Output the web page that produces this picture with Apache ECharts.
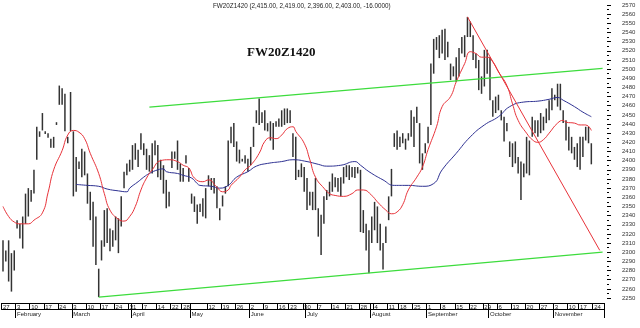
<!DOCTYPE html>
<html><head><meta charset="utf-8">
<script src="https://cdn.jsdelivr.net/npm/echarts@6/dist/echarts.min.js"></script>
<style>html,body{margin:0;padding:0;background:#fff}#c{width:640px;height:328px}</style>
</head><body><div id="c"></div>
<script>
// ---- calendar (trading days, Warsaw exchange 2014) ----
const startDate = '2014-01-27';
const endDate = '2014-11-27';
const holidays = ['2014-04-21', '2014-05-01', '2014-06-19', '2014-08-15', '2014-11-11'];
const skipWeekLabels = ['2014-05-05'];
const monthNames = ['January','February','March','April','May','June','July','August','September','October','November','December'];

// ---- bar data (high / low) ----
const highs = [2313,2302,2313,2299,2302,2335,2331,2339,2364,2370,2368,2390,2437,2432,2452,2432,2430,2424,2426,2442,
2482,2479,2473,2426,2475,2432,2404,2399,2413,2410,2386,2366,2355,2339,2282,2313,2346,2348,2326,2324,
2339,2337,2361,2388,2397,2401,2417,2419,2412,2430,2419,2413,2406,2419,2422,2417,2401,2395,2379,2366,
2410,2410,2422,2397,2392,2406,2392,2364,2361,2352,2353,2359,2370,2384,2381,2381,2372,2348,2362,2372,
2422,2437,2441,2421,2412,2402,2406,2402,2415,2437,2455,2468,2453,2455,2441,2443,2441,2443,2446,2455,
2457,2457,2455,2430,2426,2390,2397,2393,2381,2366,2366,2381,2348,2341,2361,2368,2377,2386,2382,2381,
2382,2393,2395,2395,2393,2393,2393,2390,2346,2331,2324,2339,2355,2350,2331,2310,2328,2361,2391,2430,
2433,2426,2430,2424,2430,2455,2448,2459,2441,2408,2419,2437,2506,2533,2535,2537,2543,2544,2530,2506,
2503,2513,2523,2535,2537,2557,2552,2537,2517,2510,2492,2521,2521,2513,2466,2470,2472,2455,2448,2441,
2421,2419,2421,2404,2399,2397,2426,2422,2448,2444,2444,2452,2448,2457,2466,2479,2472,2484,2484,2455,
2444,2437,2426,2415,2419,2426,2426,2437,2437,2419];
const lows = [2279,2290,2268,2257,2280,2326,2315,2304,2331,2339,2355,2364,2401,2426,2433,2429,2425,2414,2414,2439,
2461,2461,2432,2419,2432,2361,2366,2391,2382,2384,2353,2335,2306,2286,2251,2291,2306,2310,2301,2306,
2313,2299,2328,2370,2384,2388,2390,2401,2393,2412,2406,2390,2388,2386,2406,2382,2379,2364,2348,2350,
2392,2402,2390,2377,2377,2397,2377,2353,2344,2331,2344,2339,2337,2372,2368,2364,2348,2335,2350,2364,
2372,2419,2415,2399,2397,2399,2397,2388,2395,2415,2441,2439,2441,2433,2432,2422,2412,2437,2437,2437,
2439,2441,2441,2404,2379,2382,2382,2366,2346,2351,2346,2346,2317,2297,2331,2357,2361,2366,2371,2366,
2361,2375,2382,2379,2382,2381,2386,2322,2321,2302,2277,2310,2324,2310,2302,2281,2310,2335,2361,2415,
2412,2415,2419,2412,2422,2426,2415,2441,2397,2390,2408,2419,2439,2495,2521,2512,2517,2510,2513,2488,
2492,2486,2492,2517,2513,2535,2535,2510,2501,2477,2473,2481,2495,2466,2448,2452,2455,2444,2421,2432,
2404,2393,2397,2386,2357,2382,2386,2384,2426,2430,2426,2430,2433,2441,2444,2455,2466,2459,2455,2441,
2422,2411,2408,2401,2393,2390,2404,2422,2419,2396];

// ---- moving averages: [trading-day index, value] ----
const redMA = [[0,2350],[2,2339],[4,2333],[6,2331],[9,2331],[11,2335],[14,2343],[16,2365],[18,2390],[21,2411],
[23,2428],[25,2433],[27,2431],[29,2424],[31,2408],[34,2386],[36,2364],[38,2346],[41,2336],[43,2334],
[45,2339],[47,2350],[49,2368],[51,2381],[53,2390],[56,2400],[59,2401],[62,2399],[64,2395],[66,2392],
[68,2381],[71,2377],[73,2379],[76,2371],[78,2366],[80,2368],[81,2373],[84,2382],[86,2390],[88,2395],
[91,2408],[93,2421],[95,2425],[97,2424],[99,2428],[101,2435],[103,2437],[104,2432],[107,2419],[109,2401],
[111,2382],[114,2370],[116,2364],[118,2362],[121,2361],[124,2364],[126,2368],[128,2368],[131,2362],[133,2355],
[136,2346],[138,2342],[140,2344],[142,2352],[144,2368],[147,2382],[149,2393],[151,2412],[154,2437],[156,2459],
[159,2470],[161,2486],[164,2506],[166,2519],[168,2517],[170,2513],[172,2513],[174,2508],[176,2497],[179,2482],
[181,2462],[183,2444],[186,2430],[188,2423],[190,2420],[192,2423],[194,2430],[197,2441],[199,2444],[200,2442],
[203,2441],[205,2439],[207,2439],[209,2433]];
const blueMA = [[26,2374],[30,2373],[34,2372],[37,2369],[41,2367],[44,2366],[45,2370],[48,2377],[50,2382],[52,2386],
[55,2390],[57,2391],[58,2388],[62,2386],[64,2384],[67,2381],[69,2375],[70,2373],[74,2372],[77,2370],
[80,2373],[83,2382],[87,2388],[90,2394],[94,2397],[99,2399],[103,2401],[108,2399],[112,2396],[115,2394],
[120,2395],[125,2399],[127,2395],[130,2388],[135,2379],[139,2373],[144,2373],[149,2372],[153,2375],[156,2390],
[161,2408],[166,2426],[171,2439],[176,2448],[180,2459],[185,2464],[190,2465],[194,2467],[197,2469],[199,2466],
[203,2459],[206,2453],[209,2448]];

// ---- trend lines drawn on the chart: [trading-day index, value] ----
const upperChannel = [[52,2458.5],[213,2500.8]];
const lowerChannel = [[34,2251],[213,2300]];
const downTrend = [[165,2557],[212,2302]];

// ---- build categories ----
const cats = [];
(function(){
  let d = new Date(startDate + 'T00:00:00Z');
  const end = new Date(endDate + 'T00:00:00Z');
  while (d <= end) {
    const s = d.toISOString().slice(0,10);
    const wd = d.getUTCDay();
    if (wd !== 0 && wd !== 6 && holidays.indexOf(s) < 0) cats.push(s);
    d = new Date(d.getTime() + 86400000);
  }
})();
const wday = s => new Date(s + 'T00:00:00Z').getUTCDay();
const isWeekStart = i => skipWeekLabels.indexOf(cats[i]) < 0 && (i === 0 || wday(cats[i]) <= wday(cats[i-1]));
const isMonthStart = i => i > 0 && cats[i].slice(5,7) !== cats[i-1].slice(5,7);

const barData = highs.map((h, i) => [i, lows[i], h]);

const chart = echarts.init(document.getElementById('c'), null, {renderer: 'canvas'});
const FONT = 'Liberation Sans';
chart.setOption({
  animation: false,
  backgroundColor: '#ffffff',
  title: [
    {text: 'FW20Z1420 (2,415.00, 2,419.00, 2,396.00, 2,403.00, -16.0000)', left: 213, top: 3, padding: 0,
     textStyle: {fontSize: 6.3, fontWeight: 'normal', color: '#222', fontFamily: FONT}},
    {text: 'FW20Z1420', left: 247, top: 46, padding: 0,
     textStyle: {fontSize: 13, fontWeight: 'bold', color: '#111', fontFamily: 'Liberation Serif'}}
  ],
  grid: {left: 0, right: 36, top: 5, bottom: 30, containLabel: false},
  xAxis: [
    {type: 'category', data: cats, position: 'bottom', offset: 5, boundaryGap: true,
     axisLine: {show: true, lineStyle: {color: '#000', width: 1}},
     axisTick: {show: true, interval: (i) => isWeekStart(i), length: 6.5, lineStyle: {color: '#000', width: 1}},
     axisLabel: {show: true, interval: (i) => isWeekStart(i), formatter: v => String(parseInt(v.slice(8), 10)),
       fontSize: 6, fontFamily: FONT, color: '#222', margin: 1.5, align: 'left', padding: [0,0,0,0]},
     splitLine: {show: false}},
    {type: 'category', data: cats, position: 'bottom', offset: 11.5, boundaryGap: true,
     axisLine: {show: true, lineStyle: {color: '#000', width: 1}},
     axisTick: {show: false}, axisLabel: {show: false}, splitLine: {show: false}},
    {type: 'category', data: cats, position: 'bottom', offset: 5, boundaryGap: true,
     axisLine: {show: false},
     axisTick: {show: true, interval: (i) => isMonthStart(i), length: 15, lineStyle: {color: '#000', width: 1}},
     axisLabel: {show: true, interval: (i) => isMonthStart(i), formatter: v => monthNames[parseInt(v.slice(5,7), 10) - 1],
       fontSize: 6, fontFamily: FONT, color: '#222', margin: 8.5, align: 'left'},
     splitLine: {show: false}}
  ],
  yAxis: {
    type: 'value', position: 'right', min: 2250, max: 2570, interval: 10, offset: 3,
    axisLine: {show: false},
    axisTick: {show: true, length: 4, lineStyle: {color: '#000', width: 1}},
    minorTick: {show: true, splitNumber: 2, length: 2, lineStyle: {color: '#000', width: 1}},
    axisLabel: {fontSize: 6, fontFamily: FONT, color: '#333', margin: 15, formatter: v => String(v)},
    splitLine: {show: false}
  },
  series: [
    {type: 'custom', xAxisIndex: 0, data: barData, z: 2,
     renderItem: function(params, api) {
       const lo = api.coord([api.value(0), api.value(1)]);
       const hi = api.coord([api.value(0), api.value(2)]);
       return {type: 'line', shape: {x1: lo[0], y1: lo[1], x2: hi[0], y2: hi[1]},
               style: {stroke: '#333', lineWidth: 1.5}};
     }},
    {type: 'line', data: blueMA, smooth: true, symbol: 'none', z: 3,
     lineStyle: {color: '#2e3192', width: 1}},
    {type: 'line', data: redMA, smooth: true, symbol: 'none', z: 4,
     lineStyle: {color: '#e8333a', width: 1}},
    {type: 'line', data: upperChannel, symbol: 'none', z: 5, lineStyle: {color: '#3ddc3d', width: 1.2}},
    {type: 'line', data: lowerChannel, symbol: 'none', z: 5, lineStyle: {color: '#3ddc3d', width: 1.2}},
    {type: 'line', data: downTrend, symbol: 'none', z: 5, lineStyle: {color: '#e8333a', width: 1}}
  ]
});
</script></body></html>
